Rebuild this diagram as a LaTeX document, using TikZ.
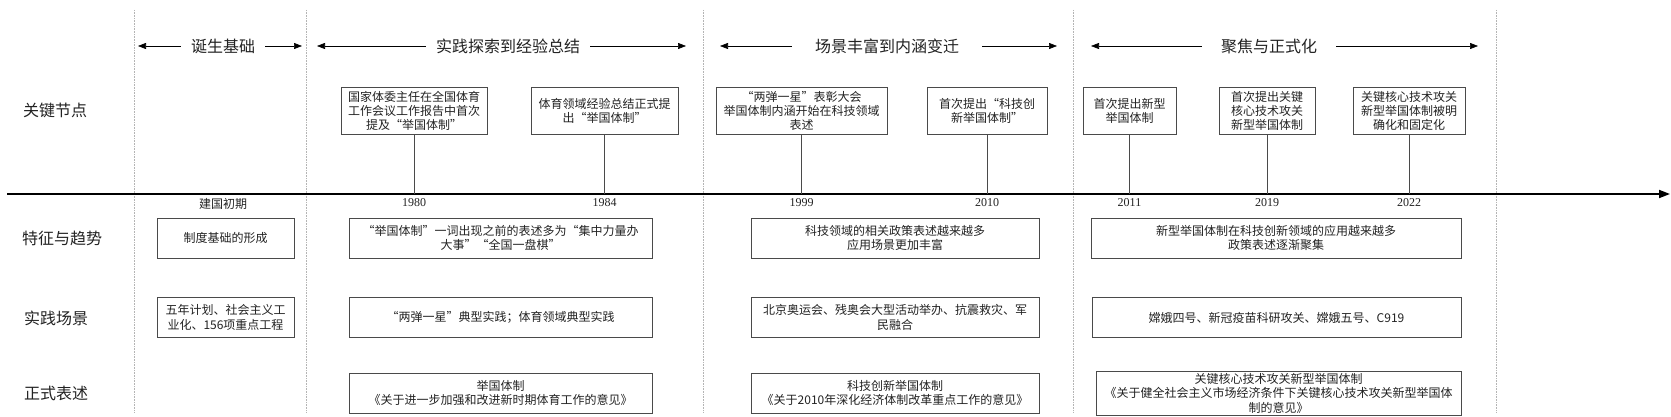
\documentclass[tikz,border=0pt]{standalone}
\usepackage{fontspec}
\setmainfont{Noto Sans CJK SC}
\newfontfamily\yearfont{Liberation Serif}
\usetikzlibrary{arrows.meta, positioning}
\definecolor{lineGray}{HTML}{4A4A4A}
\definecolor{gridGray}{HTML}{B4B4B4}
\definecolor{textDark}{HTML}{222222}
\newcommand{\zq}[1]{{\addfontfeatures{RawFeature=+fwid}“}#1{\addfontfeatures{RawFeature=+fwid}”}}

\begin{document}
\begin{tikzpicture}[x=1pt, y=-1pt,
    rowlabel/.style={anchor=west, inner sep=0pt, text=textDark,
                     font=\fontsize{16}{18}\selectfont},
    phase/.style={fill=white, inner xsep=10pt, inner ysep=2pt, text=textDark,
                  font=\fontsize{16}{18}\selectfont},
    span/.style={-{Triangle[length=8pt, width=6pt]}, line width=0.6pt},
    event/.style={draw=lineGray, line width=0.8pt, align=center, inner sep=2pt,
                  minimum height=47pt, text=textDark,
                  font=\fontsize{12}{14}\selectfont},
    info/.style={draw=lineGray, line width=0.8pt, align=center, inner sep=2pt,
                 minimum height=40pt, text=textDark,
                 font=\fontsize{12}{14.5}\selectfont},
    year/.style={inner sep=1pt, text=textDark,
                 font=\yearfont\fontsize{12}{14}\selectfont},
    tick/.style={lineGray, line width=0.8pt},
    sep/.style={gridGray, densely dotted, line width=0.6pt},
  ]
    \useasboundingbox (0,0) rectangle (1671,417);

    \foreach \x in {134,306,703,1073,1496}
      \draw[sep] (\x,10) -- (\x,413);

    \coordinate (axisL) at (7,194);
    \coordinate (axisR) at (1670,194);
    \draw[-{Triangle[length=11pt, width=8pt]}, line width=1.8pt] (axisL) -- (axisR);

    \node[rowlabel] (r1) at (23,110) {关键节点};
    \node[rowlabel] (r2) at (22,238) {特征与趋势};
    \node[rowlabel] (r3) at (24,318) {实践场景};
    \node[rowlabel] (r4) at (24,393) {正式表述};

    \node[phase] (h1) at (223,46) {诞生基础};
    \coordinate (h1L) at (138,46);
    \coordinate (h1R) at (302,46);
    \node[phase] (h2) at (508,46) {实践探索到经验总结};
    \coordinate (h2L) at (317,46);
    \coordinate (h2R) at (686,46);
    \node[phase, inner xsep=23pt] (h3) at (887,46) {场景丰富到内涵变迁};
    \coordinate (h3L) at (720,46);
    \coordinate (h3R) at (1057,46);
    \node[phase, inner xsep=19pt] (h4) at (1269,46) {聚焦与正式化};
    \coordinate (h4L) at (1091,46);
    \coordinate (h4R) at (1478,46);
    \foreach \h in {h1,h2,h3,h4} {
      \draw[span] (\h) -- (\h L);
      \draw[span] (\h) -- (\h R);
    }

    \node[event, minimum width=146pt] (e1980) at (414,110.5) {国家体委主任在全国体育\\
      工作会议工作报告中首次\\提及\zq{举国体制}};
    \node[event, minimum width=147pt] (e1984) at (604.5,110.5) {体育领域经验总结正式提\\
      出\zq{举国体制}};
    \node[event, minimum width=171pt] (e1999) at (801.5,110.5) {\zq{两弹一星}表彰大会\\
      举国体制内涵开始在科技领域\\表述};
    \node[event, minimum width=120pt] (e2010) at (987,110.5) {首次提出{\addfontfeatures{RawFeature=+fwid}“}科技创\\
      新举国体制{\addfontfeatures{RawFeature=+fwid}”}};
    \node[event, minimum width=93pt] (e2011) at (1129.5,110.5) {首次提出新型\\举国体制};
    \node[event, minimum width=96pt] (e2019) at (1267,110.5) {首次提出关键\\
      核心技术攻关\\新型举国体制};
    \node[event, minimum width=112pt] (e2022) at (1409,110.5) {关键核心技术攻关\\
      新型举国体制被明\\确化和固定化};

    \foreach \n in {1980,1984,1999,2010,2011,2019,2022} {
      \coordinate (t\n) at (e\n.south |- axisL);
      \draw[tick] (e\n.south) -- (t\n);
      \node[year, below=3pt of t\n] (y\n) {\n};
    }
    \coordinate (t0) at (223,194);
    \node[year, font=\fontsize{12}{14}\selectfont, below=3pt of t0] (y0) {建国初期};

    \node[info, minimum width=137pt] (f1) at (225.5,238) {制度基础的形成};
    \node[info, minimum width=303pt] (f2) at (500.5,238) {\zq{举国体制}一词出现之前的表述多为{\addfontfeatures{RawFeature=+fwid}“}集中力量办\\
      大事{\addfontfeatures{RawFeature=+fwid}”}\zq{全国一盘棋}};
    \node[info, minimum width=288pt] (f3) at (895,238) {科技领域的相关政策表述越来越多\\
      应用场景更加丰富};
    \node[info, minimum width=370pt] (f4) at (1276,238) {新型举国体制在科技创新领域的应用越来越多\\
      政策表述逐渐聚集};

    \node[info, minimum width=137pt] (s1) at (225.5,317.5) {五年计划、社会主义工\\
      业化、156项重点工程};
    \node[info, minimum width=303pt] (s2) at (500.5,317.5) {\zq{两弹一星}典型实践；体育领域典型实践};
    \node[info, minimum width=288pt] (s3) at (895,317.5) {北京奥运会、残奥会大型活动举办、抗震救灾、军\\
      民融合};
    \node[info, minimum width=369pt] (s4) at (1276.5,317.5) {嫦娥四号、新冠疫苗科研攻关、嫦娥五号、C919};

    \node[info, minimum width=303pt] (p2) at (500.5,393) {举国体制\\
      《关于进一步加强和改进新时期体育工作的意见》};
    \node[info, minimum width=288pt] (p3) at (895,393) {科技创新举国体制\\
      《关于2010年深化经济体制改革重点工作的意见》};
    \node[info, minimum width=365pt] (p4) at (1278.5,393) {关键核心技术攻关新型举国体制\\
      《关于健全社会主义市场经济条件下关键核心技术攻关新型举国体\\制的意见》};
  \end{tikzpicture}
\end{document}
